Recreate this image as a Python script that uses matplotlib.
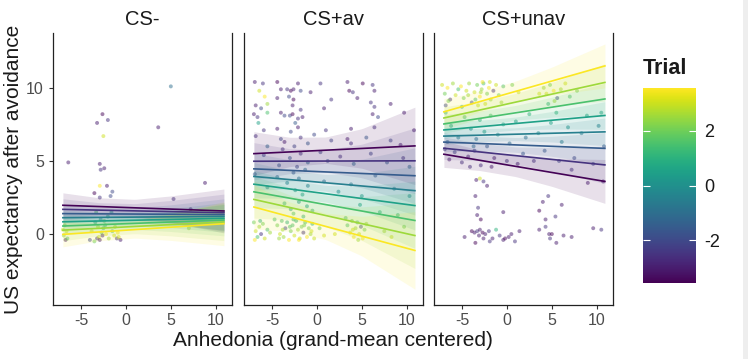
import numpy as np
import matplotlib
matplotlib.use("Agg")
import matplotlib.pyplot as plt
from matplotlib.colors import Normalize
from matplotlib.patches import Rectangle

plt.rcParams['font.family'] = ['Liberation Sans', 'DejaVu Sans']

# ---------------- data ----------------
panels = ["CS-", "CS+av", "CS+unav"]
trials = [-3.5, -2.5, -1.5, -0.5, 0.5, 1.5, 2.5, 3.5]
x_range = [-7.0, 10.9]

# fitted line values at left (x=-7) and right (x=10.9) per trial
line_left = {
    "CS-":     [1.97, 1.69, 1.40, 1.12, 0.84, 0.55, 0.27, -0.02],
    "CS+av":   [5.50, 4.98, 4.46, 3.94, 3.41, 2.89, 2.37, 1.85],
    "CS+unav": [5.46, 5.87, 6.29, 6.70, 7.12, 7.53, 7.94, 8.36],
}
line_right = {
    "CS-":     [1.58, 1.46, 1.33, 1.21, 1.08, 0.96, 0.83, 0.71],
    "CS+av":   [6.03, 5.01, 3.99, 2.97, 1.95, 0.93, -0.10, -1.12],
    "CS+unav": [3.60, 4.73, 5.86, 6.99, 8.11, 9.24, 10.37, 11.50],
}
# confidence half-width for extreme trials at grid x positions
ci_x = [-7.0, -3.0, 1.0, 5.0, 10.9]
ci_half = {
    "CS-":     [0.85, 0.60, 0.58, 0.90, 1.50],
    "CS+av":   [1.50, 1.00, 0.90, 1.35, 2.65],
    "CS+unav": [0.90, 0.70, 0.70, 0.95, 1.50],
}
ci_scale = [1.0, 0.85, 0.72, 0.63, 0.63, 0.72, 0.85, 1.0]

# raw observations (x, y, trial)
pts_cs_minus = [
    (-6.4, 4.9, -3.0), (-3.2, 7.6, -3.0), (-2.6, 8.2, -3.5), (-2.0, 7.8, -2.5), (-2.9, 4.8, -3.0),
    (-2.8, 4.4, -2.5), (-2.4, 4.5, -3.0), (-2.1, 3.3, -3.0), (-1.5, 2.9, -2.0), (-3.5, 2.8, -3.5),
    (-2.9, 2.5, -2.5), (-1.7, 2.6, -2.0), (5.0, 10.1, -1.0), (3.6, 7.3, -3.0), (8.8, 3.5, -3.0),
    (5.3, 2.4, -2.5), (7.2, 1.7, -3.0), (-2.5, 6.7, 3.0), (-2.9, 3.3, 3.5),
    (-6.9, -0.1, 2.5), (-6.7, -0.4, -3.0), (-7.0, 0.3, 3.0), (-6.5, -0.3, 1.5), (-3.2, -0.3, -2.5),
    (-3.0, -0.2, 3.0), (-2.9, -0.4, -3.0), (-2.7, 0.1, 2.0), (-2.5, 0.4, 1.0), (-2.2, 0.0, 3.5),
    (-1.9, -0.3, 2.5), (-1.5, 0.2, 1.5), (-1.0, -0.3, -2.5), (-0.8, -0.2, 3.0), (-0.6, -0.4, -3.0),
    (-3.5, -0.5, 2.0), (-3.8, 0.2, 3.0), (-4.0, -0.4, -2.0), (-2.3, 0.6, 1.0), (-1.2, 0.5, 2.5),
    (-0.9, 0.1, 3.5), (-3.4, 0.8, 0.5), (-2.8, 1.0, 0.0), (-2.0, 1.2, 1.0), (-1.6, 1.5, 0.5),
    (-6.8, 0.6, 2.0), (-3.3, 1.5, 1.5), (-2.6, -0.1, -3.0), (7.0, 0.4, 2.5), (-6.6, 0.2, 3.0),
    (-3.1, 0.5, 2.5), (-2.4, 0.9, 2.0), (-1.3, -0.1, 3.0),
]
pts_cs_av = [
    (-6.9, 10.4, -3.0), (-6.0, 10.3, -2.5), (-4.4, 10.4, -3.5), (-2.1, 10.3, -3.0), (0.4, 10.3, -2.5),
    (3.4, 10.4, -3.0), (5.1, 10.3, -3.5), (6.2, 10.2, -2.5),
    (-6.4, 9.8, 3.0), (-4.0, 9.9, -3.0), (-3.3, 9.9, -2.5), (-2.9, 9.8, -3.5), (-2.6, 9.9, -3.0),
    (-1.8, 9.8, -2.0), (-0.7, 9.7, -3.0), (3.6, 9.8, -3.5), (4.0, 9.7, -2.5), (6.4, 9.8, -3.0),
    (-4.4, 9.3, -3.0), (-3.1, 9.4, -2.0), (-2.6, 9.2, -3.5), (1.6, 9.2, -2.5), (4.5, 9.3, -3.0),
    (6.0, 9.0, -2.5), (-5.8, 9.4, 3.5), (-5.5, 8.9, 2.5),
    (-6.8, 8.8, -3.0), (-6.2, 8.6, -2.0), (-2.7, 8.8, -3.0), (-1.8, 8.5, -2.5), (0.8, 8.6, -3.0),
    (6.4, 8.7, -2.5), (8.2, 8.9, -3.0), (-3.0, 8.1, -2.0), (-5.5, 8.3, 1.5),
    (-7.0, 8.2, -3.0), (-6.6, 8.0, -2.5), (-4.0, 8.3, -3.0), (-3.6, 8.1, -2.0), (-2.7, 8.2, -3.5),
    (-2.1, 7.9, -2.5), (-1.6, 8.0, -3.0), (6.2, 8.2, -3.0), (6.8, 8.0, -2.0), (9.7, 8.3, -3.0),
    (-5.9, 7.1, -2.5), (-4.4, 7.2, -3.0), (-2.9, 7.0, -2.0), (-2.1, 7.3, -3.0), (1.0, 7.1, -2.5),
    (3.8, 7.2, -3.0), (6.4, 7.3, -2.5), (10.8, 7.1, -3.0), (-6.5, 7.6, 0.5), (-2.4, 7.6, -1.5),
    (-4.0, 6.5, -2.0), (-3.6, 6.3, -3.0), (-1.8, 6.6, -2.5), (-1.0, 6.2, -1.5), (1.6, 6.4, -2.0),
    (3.4, 6.5, -3.0), (3.8, 6.2, -2.5), (8.2, 6.4, -2.0), (9.3, 6.1, -3.0), (-5.5, 6.0, -1.0),
    (-2.5, 6.0, -2.0), (-6.8, 6.7, -2.5), (5.5, 6.6, -1.5), (-0.3, 6.8, -2.0),
    (-5.9, 5.4, -2.0), (-3.0, 5.2, -1.5), (-1.8, 5.5, -2.5), (-1.0, 4.9, -1.0), (0.4, 5.6, -2.0),
    (1.2, 5.0, -1.5), (2.6, 5.3, -2.5), (4.1, 4.8, -1.0), (6.0, 5.5, -2.0), (7.8, 4.9, -1.5),
    (9.6, 5.2, -2.5), (10.3, 4.6, -1.0), (-4.2, 4.7, -1.5), (-2.2, 4.6, -2.0), (-3.8, 5.8, -2.5),
    (-4.4, 3.9, -1.0), (-3.3, 3.5, -0.5), (-2.6, 4.2, -1.5), (-2.4, 3.0, 0.0), (-2.0, 3.8, -1.0),
    (-1.6, 2.7, 0.5), (-1.0, 3.3, -0.5), (0.8, 3.6, -1.0), (2.4, 2.9, 0.0), (3.8, 3.4, -0.5),
    (6.5, 4.0, -1.5), (8.6, 3.1, -0.5), (10.3, 2.6, 0.0), (-5.5, 3.2, -0.5), (-6.9, 4.1, -1.5),
    (-1.3, 4.4, -1.0), (5.0, 2.6, 0.5),
    (-3.6, 2.1, 1.0), (-2.9, 1.7, 0.5), (-2.6, 1.4, 1.5), (-2.0, 2.2, 0.0), (-1.5, 1.2, 1.0),
    (-1.1, 1.9, 0.5), (4.8, 2.0, 0.5), (7.0, 1.5, 1.0), (-4.7, 1.0, 1.5), (9.0, 1.3, 1.0),
    (-0.5, 1.6, 1.0), (3.2, 1.1, 1.5),
    (-7.0, 0.8, 2.0), (-6.8, 0.2, 3.0), (-6.6, -0.2, 1.5), (-6.4, 0.5, 2.5), (-6.2, 0.0, -2.5),
    (-6.0, 0.7, 2.0), (-5.8, -0.3, 3.0), (-5.5, 0.3, 1.5), (-5.2, 0.1, 2.5), (-6.9, -0.4, 3.5),
    (-6.3, 0.9, 1.0),
    (-4.4, 0.6, 2.0), (-4.1, 0.0, 3.0), (-3.9, 0.9, 1.5), (-3.7, -0.2, 2.5), (-3.5, 0.4, -2.0),
    (-3.3, 0.8, 1.0), (-3.1, -0.4, 3.5), (-2.9, 0.2, 2.0), (-2.7, 0.6, 1.5), (-2.5, -0.1, 3.0),
    (-2.3, 0.9, 1.0), (-2.1, 0.3, 2.5), (-1.9, -0.3, 3.0), (-1.7, 0.5, 2.0), (-1.5, 0.1, -2.5),
    (-1.3, 0.8, 1.5), (-1.1, -0.2, 3.5), (-0.9, 0.4, 2.0), (-0.7, 0.0, 2.5), (-0.5, 0.7, 1.0),
    (-0.3, -0.3, 3.0), (-3.8, 0.3, 2.5), (-2.6, 1.0, 1.0), (-2.0, -0.4, 3.5), (-1.4, 0.6, 2.0),
    (-3.0, 0.5, 1.5), (-0.6, 0.2, 3.0), (-4.2, -0.3, 2.5), (0.3, 0.4, 2.0), (0.8, -0.1, 3.0),
    (3.4, 0.6, 1.5), (3.7, 0.1, 3.0), (3.9, 0.9, 2.0), (4.1, -0.2, 3.5), (4.3, 0.4, 2.5),
    (4.5, 0.8, 1.5), (4.7, 0.0, 3.0), (4.9, 0.5, -2.0), (5.1, -0.3, 3.5), (5.3, 0.3, 2.0),
    (5.5, 0.7, 2.5), (4.0, 0.3, 3.0), (4.6, -0.4, 2.5),
    (9.7, 0.5, 2.0), (7.5, 0.2, 2.5), (2.0, 0.0, 3.0), (8.3, -0.2, 3.0),
]
pts_cs_unav = [
    (-7.2, 10.2, 3.0), (-6.9, 9.6, 2.0), (-6.6, 10.0, 3.5), (-6.3, 9.2, -2.5), (-6.0, 10.3, 2.5),
    (-5.7, 9.5, 3.0), (-5.4, 9.9, 1.5), (-5.1, 10.1, 3.5), (-4.8, 9.3, 2.0), (-4.5, 9.8, 3.0),
    (-4.2, 10.3, 2.5), (-3.9, 9.0, -2.0), (-3.6, 9.7, 3.0), (-3.3, 10.2, 2.0), (-3.0, 9.4, 3.5),
    (-2.8, 9.9, 2.5), (-2.6, 10.3, 1.5), (-2.4, 8.9, 3.0), (-2.2, 9.6, 2.0), (-2.0, 10.0, 3.5),
    (-1.8, 9.2, 2.5), (-1.5, 9.8, -2.5), (-1.2, 10.2, 3.0), (-0.9, 9.5, 2.0), (-0.6, 9.0, 2.5),
    (-3.5, 9.2, 1.5), (-3.2, 8.8, 3.0), (-2.9, 9.7, 2.5), (-2.7, 10.4, 3.5), (-6.8, 8.8, -2.0),
    (-6.5, 9.1, 2.0), (-5.0, 8.7, 1.0), (-4.3, 9.5, 2.5), (-1.9, 10.4, 3.0), (-0.4, 10.1, 1.5),
    (4.1, 10.0, 2.5), (4.4, 9.6, 3.0), (4.8, 10.2, 2.0), (5.2, 9.8, 3.5), (5.6, 9.3, -2.0),
    (6.0, 9.9, 2.5), (6.5, 10.3, 3.0), (7.0, 9.4, 1.5), (7.8, 9.8, 2.0), (3.6, 9.6, 3.0),
    (4.6, 8.9, 1.0), (5.3, 9.1, 2.5), (0.6, 10.2, 2.0), (1.3, 9.7, 3.0),
    (-6.8, 8.3, 1.0), (-6.2, 7.4, 0.5), (-5.4, 6.6, -0.5), (-4.7, 8.0, 1.5), (-4.0, 7.2, 0.0),
    (-3.4, 6.5, -1.0), (-3.0, 7.8, 1.0), (-2.5, 7.0, 0.5), (-2.2, 6.0, -1.5), (-1.8, 8.1, 1.5),
    (-1.0, 6.8, 0.0), (-0.4, 7.5, 0.5), (0.3, 6.2, -1.0), (1.0, 7.7, 0.5), (1.8, 5.5, -1.5),
    (2.5, 8.2, 1.0), (3.5, 6.9, 0.0), (4.2, 5.7, -1.5), (4.9, 7.6, 0.5), (5.5, 8.3, 1.0),
    (6.1, 6.3, -0.5), (6.8, 7.3, 0.0), (7.5, 5.2, -2.0), (8.3, 6.9, -0.5), (8.9, 8.1, 0.5),
    (9.6, 4.8, -2.0), (10.2, 7.4, -0.5), (10.8, 6.0, -1.5), (-6.9, 5.8, -2.5), (-6.4, 5.1, -3.0),
    (-5.8, 5.6, -2.0), (-5.0, 4.9, -2.5), (-4.3, 5.3, -3.0), (-3.6, 5.7, -2.0), (-2.9, 4.7, -2.5),
    (-1.4, 5.2, -3.0), (0.0, 5.0, -2.5), (1.2, 4.8, -3.0), (-3.7, 6.0, -1.0), (3.0, 5.0, -2.5),
    (5.8, 5.0, -2.0), (-1.7, 4.6, -3.0), (-6.6, 6.3, -1.5), (-4.1, 4.6, -2.5), (2.1, 6.6, -1.0),
    (10.7, 3.6, -3.0), (10.5, 8.3, 0.5), (7.2, 4.4, -2.5), (9.0, 3.5, -3.0),
    (-3.4, 3.7, -3.0), (-3.0, 3.8, 3.0), (-2.6, 3.6, -2.5), (-2.2, 3.3, -3.0), (-3.5, 2.6, -3.0),
    (-3.2, 1.8, -2.5), (-3.3, 1.3, -3.0), (-2.9, 1.0, -3.5), (4.0, 2.2, -3.0), (4.6, 2.6, -2.5),
    (6.1, 2.0, -3.0), (3.6, 1.6, -3.5), (4.3, 1.0, -3.0), (5.4, 1.2, -2.5), (-0.4, 1.5, -3.0),
    (9.6, 0.4, -3.0), (10.5, 0.3, -2.5),
    (-4.7, -0.2, -3.0), (-3.9, 0.2, -3.5), (-3.6, 0.1, -3.0), (-3.3, 0.2, -2.5), (-3.0, 0.3, -3.0),
    (-2.7, 0.1, -3.5), (-2.4, 0.0, -3.0), (-2.0, 0.2, -2.5), (-1.6, -0.3, -3.0), (-3.5, -0.6, -3.5),
    (-2.6, -0.3, -3.0), (-0.8, -0.1, -2.5), (-0.4, -0.4, -3.0), (-0.2, -0.3, -3.5), (0.5, 0.0, -3.0),
    (0.9, -0.5, -2.5), (0.2, -0.2, -3.0), (-1.2, 0.3, 1.0), (1.4, 0.2, -3.0), (-3.1, -0.1, -3.0),
    (3.6, 0.3, -3.0), (4.3, 0.5, -2.5), (4.7, 0.0, -3.0), (5.0, 0.0, -3.5), (5.5, -0.6, -3.0),
    (4.8, -0.3, -2.5), (6.3, -0.1, -3.0), (7.2, -0.2, -3.0), (-1.9, -0.5, -2.5),
]
points = {"CS-": pts_cs_minus, "CS+av": pts_cs_av, "CS+unav": pts_cs_unav}

# ---------------- plotting ----------------
W, H = 748, 359
fig = plt.figure(figsize=(W / 100, H / 100), dpi=100)
fig.patch.set_facecolor("white")
fig.patches.append(Rectangle((743 / W, 0), 5 / W, 1, transform=fig.transFigure,
                             facecolor="#eeeeee", edgecolor="none", zorder=-1))

cmap = plt.get_cmap("viridis")
norm = Normalize(vmin=-3.55, vmax=3.55)

panel_left_px = [53, 244, 434]
panel_w_px = 179
top_px, bot_px = 33, 305
xlim = (-8.1, 11.8)
ylim = (-4.85, 13.75)
xs = np.linspace(x_range[0], x_range[1], 60)

for i, name in enumerate(panels):
    ax = fig.add_axes([panel_left_px[i] / W, (H - bot_px) / H,
                       panel_w_px / W, (bot_px - top_px) / H])
    pts = np.array(points[name])
    ax.scatter(pts[:, 0], pts[:, 1], c=pts[:, 2], cmap=cmap, norm=norm,
               s=8, alpha=0.5, linewidths=0, zorder=1)
    hw_grid = np.interp(xs, ci_x, ci_half[name])
    for k, t in enumerate(trials):
        yl = np.interp(xs, x_range, [line_left[name][k], line_right[name][k]])
        hw = hw_grid * ci_scale[k]
        ax.fill_between(xs, yl - hw, yl + hw, color=cmap(norm(t)), alpha=0.12,
                        linewidth=0, zorder=2)
    for k, t in enumerate(trials):
        ax.plot(x_range, [line_left[name][k], line_right[name][k]],
                color=cmap(norm(t)), lw=1.2, zorder=3)
    ax.set_xlim(*xlim)
    ax.set_ylim(*ylim)
    ax.set_xticks([-5, 0, 5, 10])
    ax.set_xticklabels(["-5", "0", "5", "10"])
    ax.spines["top"].set_visible(False)
    for s in ["left", "right", "bottom"]:
        ax.spines[s].set_color("#222222")
        ax.spines[s].set_linewidth(0.9)
    ax.tick_params(axis="x", colors="#333333", labelcolor="#4d4d4d", labelsize=11.5,
                   length=3, width=0.8, pad=3)
    if i == 0:
        ax.set_yticks([0, 5, 10])
        ax.tick_params(axis="y", colors="#333333", labelcolor="#4d4d4d", labelsize=11.5,
                       length=3, width=0.8)
    else:
        ax.set_yticks([])
    ax.set_title(name, fontsize=14.5, color="#1a1a1a", pad=6)
    ax.set_facecolor("white")

fig.text(0.018, 1 - ((top_px + bot_px) / 2) / H, "US expectancy after avoidance",
         rotation=90, ha="center", va="center", fontsize=15, color="#1a1a1a")
fig.text(333 / W, 1 - 340 / H, "Anhedonia (grand-mean centered)",
         ha="center", va="center", fontsize=15, color="#1a1a1a")

# colorbar
cax = fig.add_axes([643 / W, (H - 283) / H, 53 / W, 195 / H])
cb = matplotlib.colorbar.ColorbarBase(cax, cmap=cmap, norm=norm, orientation="vertical")
cb.outline.set_visible(False)
cb.set_ticks([-2, 0, 2])
cb.set_ticklabels(["-2", "0", "2"])
cax.yaxis.set_ticks_position("both")
cax.tick_params(axis="y", direction="in", length=5, width=0.8, color="white",
                labelcolor="#1a1a1a", labelsize=13, left=True, right=True,
                labelleft=False, labelright=True, pad=6)
fig.text(643 / W, 1 - 68 / H, "Trial", ha="left", va="center", fontsize=15.5,
         fontweight="bold", color="#1a1a1a")

fig.savefig("out.png", dpi=100)
